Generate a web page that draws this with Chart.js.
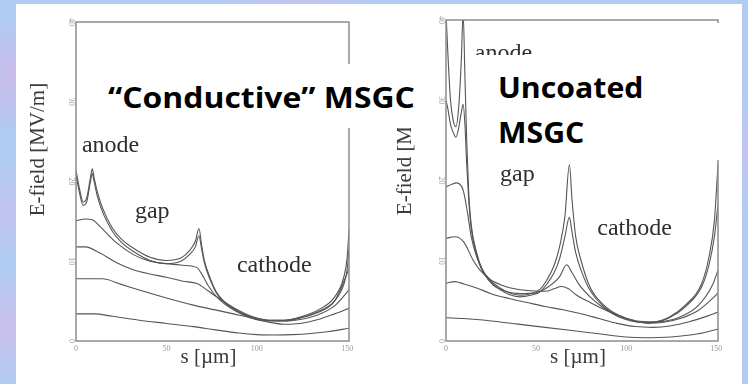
<!DOCTYPE html>
<html>
<head>
<meta charset="utf-8">
<script src="https://cdn.jsdelivr.net/npm/chart.js@4.4.1/dist/chart.umd.min.js"></script>
<style>
  html, body { margin: 0; padding: 0; }
  body {
    width: 748px; height: 384px; overflow: hidden; position: relative;
    background:
      radial-gradient(circle at 2% 20%, rgba(214,182,232,0.7), transparent 60px),
      radial-gradient(circle at 1% 55%, rgba(205,190,235,0.6), transparent 50px),
      radial-gradient(circle at 1% 85%, rgba(220,185,230,0.6), transparent 60px),
      radial-gradient(circle at 40% 0%, rgba(210,190,235,0.6), transparent 80px),
      radial-gradient(circle at 99% 40%, rgba(205,190,240,0.6), transparent 60px),
      #afcbf1;
  }
  #panel { position: absolute; left: 16px; top: 4px; width: 726px; height: 380px; background: #fff; }
  canvas { position: absolute; }
  #leftChart { left: 16px; top: 4px; }
  #rightChart { left: 386px; top: 2px; }
  .box { position: absolute; background: #fff; }
  .big {
    position: absolute; font-family: "Open Sans", sans-serif; font-weight: 700;
    color: #000; white-space: nowrap; line-height: 1; transform-origin: 0 0;
  }
</style>
</head>
<body>
<div id="panel"></div>
<canvas id="leftChart" width="354" height="380"></canvas>
<canvas id="rightChart" width="350" height="382"></canvas>

<div class="box" style="left:100px;top:64px;width:332px;height:64px;"></div>
<div class="box" style="left:470px;top:55px;width:254px;height:105px;"></div>
<div class="box" style="left:712px;top:23px;width:12px;height:32px;"></div>

<div class="big" style="left:108px;top:82px;font-size:29px;transform:scaleX(1.1);">“Conductive” MSGC</div>
<div class="big" style="left:498px;top:73px;font-size:28px;transform:scaleX(1.08);">Uncoated</div>
<div class="big" style="left:498px;top:118px;font-size:28px;transform:scaleX(1.08);">MSGC</div>

<script>
// ----------------------
// DATA
// ----------------------
const xTicks = [0, 50, 100, 150];
const yTicks = [0, 10, 20, 30, 40];

// "Conductive" MSGC (left)
const sLA = [0, 2, 4, 6, 8, 9, 10, 12, 15, 20, 25, 32, 41, 50, 58, 63, 66, 68, 69.5, 71, 74, 78, 87, 97, 106, 115, 124, 134, 143, 148, 150, 151];
const eLA = [21.4, 19, 17.4, 18, 20.5, 21.6, 20.5, 18.5, 16.5, 14.2, 12.8, 11.6, 10.5, 10.1, 10.4, 11.4, 12.5, 14.1, 12, 10.1, 8, 6, 4.1, 3, 2.6, 2.6, 3, 3.9, 5.5, 7.9, 10.5, 14];
const eLB = [20.8, 18.5, 17, 17.5, 20, 21, 20, 18, 16, 13.8, 12.4, 11.2, 10.1, 9.7, 10, 10.9, 11.8, 13.2, 11.5, 9.8, 7.8, 5.9, 4, 2.9, 2.5, 2.5, 2.9, 3.7, 5, 7, 9, 11.5];
const sLC = [0, 5, 9, 13.5, 22.5, 32, 41, 50, 59, 67, 69, 73, 78, 87, 97, 106, 115, 124, 134, 143, 151];
const eLC = [15.1, 15.3, 15.2, 14.3, 12.3, 10.8, 10, 9.7, 9.5, 9.2, 8.6, 7, 5.5, 3.9, 2.9, 2.6, 2.6, 2.9, 3.6, 5, 9];
const sLD = [0, 5, 13.5, 22.5, 32, 41, 50, 59, 67, 73, 78, 87, 97, 106, 115, 124, 134, 143, 151];
const eLD = [11.8, 11.8, 11, 9.8, 8.9, 8.4, 8, 7.5, 7.2, 6.3, 5.5, 4.2, 3.1, 2.6, 2.5, 2.7, 3.3, 4.4, 6.4];
const sLE = [0, 8, 14.5, 25, 35, 50, 65, 77, 87, 97, 106, 115, 124, 134, 143, 151];
const eLE = [7.8, 7.8, 7.8, 7.1, 6.4, 5.4, 4.5, 3.9, 3.4, 2.9, 2.4, 2.1, 2.2, 2.7, 3.4, 4.1];
const sLF = [0, 10, 20, 35, 50, 65, 77, 90, 100, 110, 120, 130, 140, 151];
const eLF = [3.4, 3.4, 3.1, 2.6, 2.2, 1.8, 1.4, 1.0, 0.8, 0.75, 0.8, 0.95, 1.2, 1.6];

// Uncoated MSGC (right)
const sRA = [0, 1, 2.5, 4, 5.5, 7, 8.5, 9.5, 10.5, 11.5, 12.5, 14, 17, 20, 25, 30, 35, 41, 47, 52, 56, 60, 63, 66, 68.5, 70, 72, 75, 80, 87, 96, 106, 115, 124, 133, 142, 146, 149, 151];
const eRA = [41, 36, 30, 27.5, 26.7, 29, 35, 41, 33, 25, 19, 14.5, 11, 9, 7.5, 6.6, 6, 5.7, 5.9, 6.4, 7.6, 9.4, 11.7, 15.5, 22, 17.5, 13, 10, 6.7, 4.6, 3.2, 2.5, 2.4, 3, 4.5, 7.2, 10.5, 15, 22];
const eRB = [30, 29, 27, 26, 25.4, 26.5, 28.5, 29.5, 27, 22, 18, 14, 10.8, 8.8, 7.3, 6.4, 5.8, 5.5, 5.7, 6.1, 7.1, 8.5, 10.2, 13, 15.4, 13.5, 11, 8.8, 6.3, 4.4, 3.1, 2.4, 2.3, 2.9, 4.3, 6.8, 9.5, 13, 17];
const sRC = [0, 3, 6, 9.5, 12, 14, 17, 21, 26, 33, 41, 50, 57, 63, 67, 70, 74, 80, 87, 96, 110, 120, 130, 140, 148, 151];
const eRC = [19.2, 19.5, 19.7, 18.8, 15.9, 13, 10.5, 8.5, 7, 6.2, 5.9, 6, 6.8, 8, 9.5, 8.5, 7, 5.5, 4.2, 3, 2.3, 2.4, 3, 4.4, 7, 8.8];
const sRD = [0, 5, 10, 15, 19, 25, 33, 45, 55, 60, 64, 68, 72, 80, 90, 100, 112, 120, 130, 140, 148, 151];
const eRD = [12.8, 13, 12.3, 10.1, 8.8, 7.6, 6.8, 6.3, 6.2, 6.5, 6.8, 6.5, 5.8, 4.8, 3.7, 2.8, 2.2, 2.3, 2.8, 3.8, 5.3, 6];
const sRE = [0, 5, 10, 17, 25, 35, 45, 55, 65, 75, 85, 95, 105, 115, 125, 135, 145, 151];
const eRE = [7.2, 7.4, 7.1, 6.6, 5.9, 5.3, 4.8, 4.3, 3.9, 3.4, 2.8, 2.2, 1.8, 1.7, 1.9, 2.4, 3.1, 3.6];
const sRF = [0, 10, 25, 40, 55, 70, 85, 100, 110, 125, 140, 151];
const eRF = [2.9, 2.8, 2.5, 2.1, 1.7, 1.3, 0.9, 0.5, 0.4, 0.5, 0.9, 1.5];

// region labels, placed in data units (s, E at baseline)
const leftLabels = [
  { text: "anode", s: 3.3, e: 23.7 },
  { text: "gap", s: 32.6, e: 15.4 },
  { text: "cathode", s: 89, e: 8.65 }
];
const rightLabels = [
  { text: "anode", s: 16, e: 35 },
  { text: "gap", s: 30, e: 20 },
  { text: "cathode", s: 84, e: 13.2 }
];

// ----------------------
// PLUGIN: frame, rotated y ticks, titles, labels
// ----------------------
const framePlugin = {
  id: "frame",
  afterDraw(chart, args, opts) {
    const { ctx, chartArea: a, scales } = chart;
    ctx.save();
    ctx.strokeStyle = "#8c8c8c";
    ctx.lineWidth = 1.5;
    ctx.strokeRect(a.left, a.top, a.right - a.left, a.bottom - a.top);

    ctx.fillStyle = "#9a9a9a";
    ctx.font = '8px "Liberation Serif"';
    ctx.textAlign = "center";
    ctx.textBaseline = "middle";
    yTicks.forEach(v => {
      const y = scales.y.getPixelForValue(v);
      ctx.save();
      ctx.translate(a.left - 5, y);
      ctx.rotate(Math.PI / 2);
      ctx.fillText(String(v), 0, 0);
      ctx.restore();
    });

    ctx.fillStyle = "#3a3a3a";
    ctx.font = '21px "Liberation Serif"';
    ctx.save();
    ctx.translate(a.left - opts.yTitleOffset, a.top + 0.40 * (a.bottom - a.top));
    ctx.rotate(-Math.PI / 2);
    ctx.fillText("E-field [MV/m]", 0, 0);
    ctx.restore();
    ctx.fillText("s [µm]", (a.left + a.right) / 2 - 4, a.bottom + 16);

    ctx.fillStyle = "#2e2e2e";
    ctx.font = '24px "Liberation Serif"';
    ctx.textAlign = "left";
    ctx.textBaseline = "alphabetic";
    opts.labels.forEach(l => {
      ctx.fillText(l.text, scales.x.getPixelForValue(l.s), scales.y.getPixelForValue(l.e));
    });
    ctx.restore();
  }
};

function toPoints(s, e) {
  return s.map((x, i) => ({ x, y: e[i] }));
}

function makeChart(id, curves, labels, pad, yTitleOffset) {
  return new Chart(document.getElementById(id), {
    type: "line",
    data: {
      datasets: curves.map(([s, e]) => ({
        data: toPoints(s, e),
        borderColor: "#555",
        borderWidth: 1.1,
        pointRadius: 0,
        cubicInterpolationMode: "monotone",
        fill: false
      }))
    },
    options: {
      responsive: false,
      animation: false,
      events: [],
      layout: { padding: pad },
      plugins: {
        legend: { display: false },
        tooltip: { enabled: false },
        frame: { labels, yTitleOffset }
      },
      scales: {
        x: {
          type: "linear", min: 0, max: 151,
          grid: { display: false, drawTicks: false },
          border: { display: false },
          ticks: { color: "#9a9a9a", font: { size: 8, family: "Liberation Serif" }, padding: 3, maxRotation: 0 },
          afterBuildTicks: sc => { sc.ticks = xTicks.map(v => ({ value: v })); },
          afterFit: sc => { sc.height = 43; }
        },
        y: {
          min: 0, max: 40,
          grid: { display: false, drawTicks: false },
          border: { display: false },
          ticks: { display: false },
          afterFit: sc => { sc.width = 60; }
        }
      }
    },
    plugins: [framePlugin]
  });
}

makeChart("leftChart",
  [[sLA, eLA], [sLA, eLB], [sLC, eLC], [sLD, eLD], [sLE, eLE], [sLF, eLF]],
  leftLabels, { left: 0, top: 18, right: 21, bottom: 0 }, 38);

makeChart("rightChart",
  [[sRA, eRA], [sRA, eRB], [sRC, eRC], [sRD, eRD], [sRE, eRE], [sRF, eRF]],
  rightLabels, { left: 0, top: 18, right: 18, bottom: 0 }, 41);
</script>
</body>
</html>
